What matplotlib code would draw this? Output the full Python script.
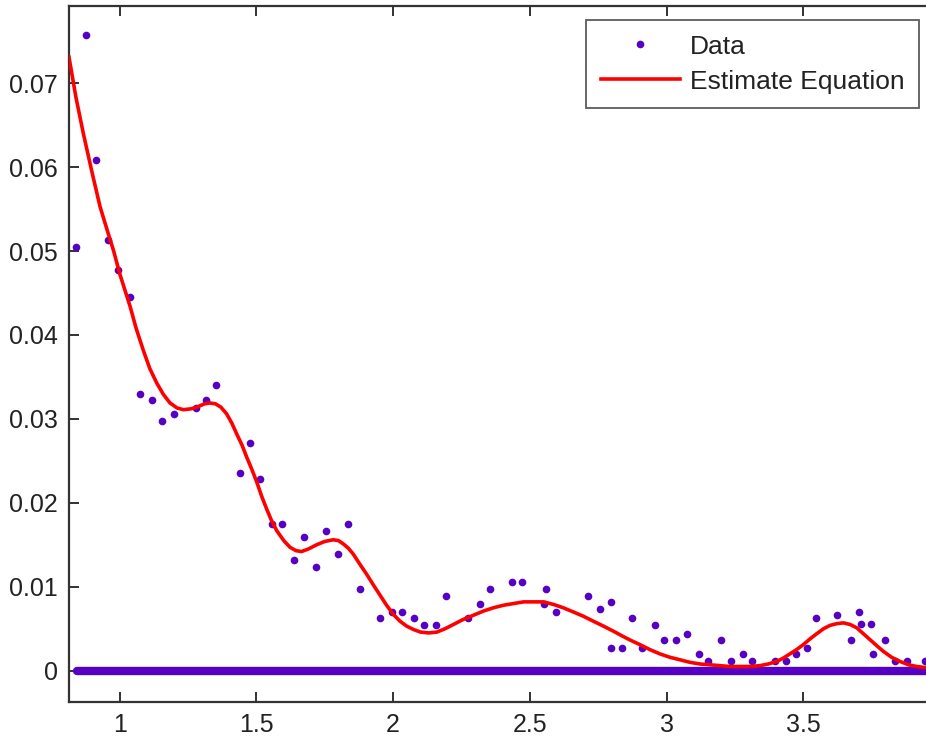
import matplotlib
matplotlib.use('Agg')
import matplotlib.pyplot as plt

plt.rcParams['font.family'] = ['Liberation Sans', 'DejaVu Sans']

# scattered data points
data_x = [0.840, 0.877, 0.913, 0.956, 0.993, 1.038, 1.074, 1.119, 1.156, 1.199,
          1.280, 1.317, 1.353, 1.440, 1.477, 1.513, 1.558, 1.595, 1.638, 1.674,
          1.718, 1.755, 1.800, 1.836, 1.879, 1.952, 1.996, 2.034, 2.078, 2.114,
          2.157, 2.194, 2.275, 2.319, 2.356, 2.436, 2.473, 2.553, 2.560, 2.597,
          2.714, 2.757, 2.795, 2.795, 2.836, 2.875, 2.912, 2.956, 2.992, 3.036,
          3.073, 3.117, 3.153, 3.198, 3.235, 3.278, 3.314, 3.395, 3.438, 3.475,
          3.512, 3.548, 3.623, 3.674, 3.703, 3.710, 3.747, 3.754, 3.798, 3.835,
          3.879, 3.946]
data_y = [0.0505, 0.0757, 0.0609, 0.0513, 0.0478, 0.0445, 0.0330, 0.0323, 0.0297, 0.0306,
          0.0313, 0.0323, 0.0340, 0.0235, 0.0271, 0.0228, 0.0175, 0.0175, 0.0132, 0.0159,
          0.0123, 0.0166, 0.0139, 0.0175, 0.0097, 0.0063, 0.0070, 0.0070, 0.0063, 0.0054,
          0.0054, 0.0089, 0.0063, 0.0080, 0.0097, 0.0106, 0.0106, 0.0080, 0.0097, 0.0070,
          0.0089, 0.0073, 0.0082, 0.0027, 0.0027, 0.0063, 0.0027, 0.0054, 0.0037, 0.0037,
          0.0044, 0.0020, 0.0011, 0.0037, 0.0011, 0.0020, 0.0011, 0.0011, 0.0011, 0.0020,
          0.0027, 0.0063, 0.0066, 0.0037, 0.0070, 0.0056, 0.0056, 0.0020, 0.0037, 0.0011,
          0.0011, 0.0011]

# zero valued data (dense, forms a band)
zero_x = [0.845, 3.98]
zero_y = [0.0, 0.0]

# fitted curve
fit_x = [0.8145, 0.840, 0.867, 0.900, 0.928, 0.955, 0.977, 1.001, 1.038, 1.060,
         1.086, 1.110, 1.135, 1.160, 1.184, 1.210, 1.233, 1.260, 1.282, 1.310,
         1.330, 1.350, 1.370, 1.391, 1.410, 1.428, 1.447, 1.465, 1.483, 1.501,
         1.519, 1.537, 1.555, 1.574, 1.600, 1.623, 1.645, 1.665, 1.690, 1.720,
         1.750, 1.781, 1.800, 1.818, 1.836, 1.854, 1.878, 1.903, 1.928, 1.952,
         1.976, 2.001, 2.025, 2.050, 2.075, 2.100, 2.130, 2.160, 2.190, 2.220,
         2.256, 2.293, 2.330, 2.367, 2.404, 2.440, 2.477, 2.513, 2.550, 2.586,
         2.622, 2.659, 2.695, 2.732, 2.770, 2.806, 2.840, 2.870, 2.903, 2.940,
         2.976, 3.012, 3.049, 3.085, 3.122, 3.160, 3.195, 3.230, 3.268, 3.305,
         3.341, 3.372, 3.403, 3.427, 3.451, 3.475, 3.500, 3.525, 3.549, 3.574,
         3.598, 3.622, 3.647, 3.672, 3.696, 3.720, 3.744, 3.768, 3.793, 3.823,
         3.854, 3.885, 3.915, 3.965]
fit_y = [0.0731, 0.0683, 0.0640, 0.0592, 0.0553, 0.0524, 0.0501, 0.0472, 0.0434, 0.0408,
         0.0382, 0.0360, 0.0343, 0.0329, 0.0319, 0.0313, 0.0311, 0.0312, 0.0314, 0.0318,
         0.0319, 0.0318, 0.0314, 0.0306, 0.0295, 0.0282, 0.0269, 0.0254, 0.0240, 0.0225,
         0.0208, 0.0193, 0.0179, 0.0167, 0.0155, 0.0147, 0.0143, 0.0142, 0.0145, 0.0150,
         0.0154, 0.0156, 0.0155, 0.0151, 0.0146, 0.0139, 0.0127, 0.0115, 0.0102, 0.0090,
         0.0078, 0.0067, 0.0059, 0.0053, 0.0049, 0.0046, 0.0045, 0.0046, 0.0050, 0.0055,
         0.0061, 0.0066, 0.0071, 0.0075, 0.0078, 0.0080, 0.0082, 0.0082, 0.0082, 0.0079,
         0.0075, 0.0070, 0.0065, 0.0059, 0.0053, 0.0047, 0.0041, 0.0036, 0.0031, 0.0025,
         0.0020, 0.0016, 0.0013, 0.0010, 0.0008, 0.0007, 0.0006, 0.0005, 0.0005, 0.0005,
         0.0006, 0.0008, 0.0011, 0.0015, 0.0020, 0.0025, 0.0031, 0.0038, 0.0044, 0.0050,
         0.0054, 0.0056, 0.0057, 0.0055, 0.0051, 0.0044, 0.0037, 0.0030, 0.0023, 0.0016,
         0.0011, 0.0007, 0.0005, 0.0003]

purple = '#5500c4'

fig = plt.figure(figsize=(9.26, 7.4), dpi=100)
ax = fig.add_axes([69/926, 38/740, 861/926, 696/740])

ax.plot(zero_x, zero_y, color=purple, lw=6, solid_capstyle='round', zorder=2)
ax.plot(data_x, data_y, 'o', color=purple, ms=5.5, mew=0, label='Data', zorder=3)
ax.plot(fit_x, fit_y, color='red', lw=2.6, label='Estimate Equation', zorder=4,
        solid_joinstyle='round')

ax.set_xlim(0.8145, 3.9635)
ax.set_ylim(-0.00373, 0.0792)
ax.set_xticks([1, 1.5, 2, 2.5, 3, 3.5])
ax.set_xticklabels(['1', '1.5', '2', '2.5', '3', '3.5'])
ax.set_yticks([0, 0.01, 0.02, 0.03, 0.04, 0.05, 0.06, 0.07])
ax.set_yticklabels(['0', '0.01', '0.02', '0.03', '0.04', '0.05', '0.06', '0.07'])
ax.tick_params(direction='in', length=7, width=1.3, top=True, right=False,
               labelsize=18, colors='#222222', pad=8)
for s in ['left', 'bottom', 'top']:
    ax.spines[s].set_linewidth(1.6)
    ax.spines[s].set_color('#333333')
ax.spines['right'].set_visible(False)

leg = ax.legend(loc='upper right', bbox_to_anchor=(919/926, 1 - 20/740),
                bbox_transform=fig.transFigure, fontsize=19, frameon=True,
                fancybox=False, edgecolor='#333333', borderpad=0.55,
                handlelength=3.0, handletextpad=0.38, labelspacing=0.42,
                borderaxespad=0)
leg.get_frame().set_linewidth(1.3)
for t in leg.get_texts():
    t.set_color('#222222')

fig.savefig('out.png', dpi=100)
